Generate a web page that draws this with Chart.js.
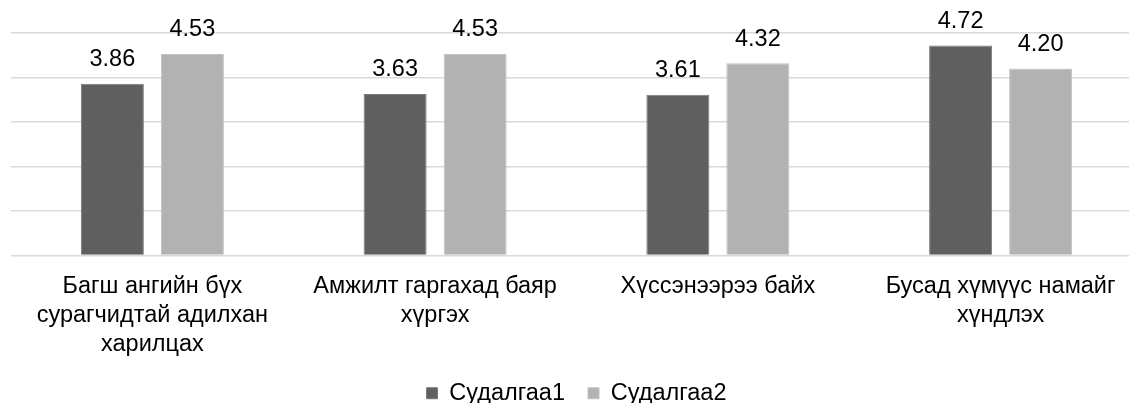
<!DOCTYPE html>
<html>
<head>
<meta charset="utf-8">
<script src="https://cdn.jsdelivr.net/npm/chart.js@4"></script>
<style>
  html, body { margin: 0; padding: 0; background: #fff; overflow: hidden; width: 1129px; height: 403px; }
  #wrap { position: absolute; left: 0; top: 0; width: 1160px; height: 415px; }
</style>
</head>
<body>
<div id="wrap"><canvas id="c"></canvas></div>
<script>
const categories = [
  ["Багш ангийн бүх", "сурагчидтай адилхан", "харилцах"],
  ["Амжилт гаргахад баяр", "хүргэх"],
  ["Хүссэнээрээ байх"],
  ["Бусад хүмүүс намайг", "хүндлэх"]
];
const seriesNames = ["Судалгаа1", "Судалгаа2"];
const study1 = [3.86, 3.63, 3.61, 4.72];
const study2 = [4.53, 4.53, 4.32, 4.20];
const yTicks = [0, 1, 2, 3, 4, 5];

const FONT = "'Liberation Sans', Arial, sans-serif";

const valueLabels = {
  id: 'valueLabels',
  afterDatasetsDraw(chart) {
    const ctx = chart.ctx;
    ctx.save();
    ctx.font = "23.5px " + FONT;
    ctx.fillStyle = "#000";
    ctx.textAlign = "center";
    ctx.textBaseline = "middle";
    chart.data.datasets.forEach((ds, i) => {
      const meta = chart.getDatasetMeta(i);
      meta.data.forEach((bar, j) => {
        ctx.fillText(ds.data[j].toFixed(2), bar.x, bar.y - 24);
      });
    });
    ctx.restore();
  }
};

new Chart(document.getElementById('c'), {
  type: 'bar',
  data: {
    labels: categories,
    datasets: [
      { label: seriesNames[0], data: study1, backgroundColor: '#5f5f5f', borderColor: '#7a7a7a', borderWidth: 1,
        barPercentage: 0.7875, categoryPercentage: 0.566 },
      { label: seriesNames[1], data: study2, backgroundColor: '#b2b2b2', borderColor: '#c2c2c2', borderWidth: 1,
        barPercentage: 0.7875, categoryPercentage: 0.566 }
    ]
  },
  options: {
    responsive: true,
    maintainAspectRatio: false,
    animation: false,
    layout: { padding: { left: 11, right: 18, top: 33, bottom: 0 } },
    plugins: {
      title: { display: false },
      tooltip: { enabled: false },
      legend: {
        position: 'bottom',
        labels: {
          font: { size: 23.5, family: FONT },
          color: '#000',
          boxWidth: 11,
          boxHeight: 11,
          padding: 23
        }
      }
    },
    scales: {
      x: {
        grid: { display: false },
        border: { display: false },
        afterFit(scale) { scale.height = 103; },
        ticks: {
          font: { size: 23.5, family: FONT, lineHeight: 1.24 },
          color: '#000',
          maxRotation: 0,
          autoSkip: false,
          padding: 8
        }
      },
      y: {
        min: yTicks[0],
        max: yTicks[yTicks.length - 1],
        afterBuildTicks(scale) { scale.ticks = yTicks.map(v => ({ value: v })); },
        ticks: { display: false },
        border: { display: false },
        grid: { color: '#d9d9d9', lineWidth: 1.5, drawTicks: false }
      }
    }
  },
  plugins: [valueLabels]
});
</script>
</body>
</html>
